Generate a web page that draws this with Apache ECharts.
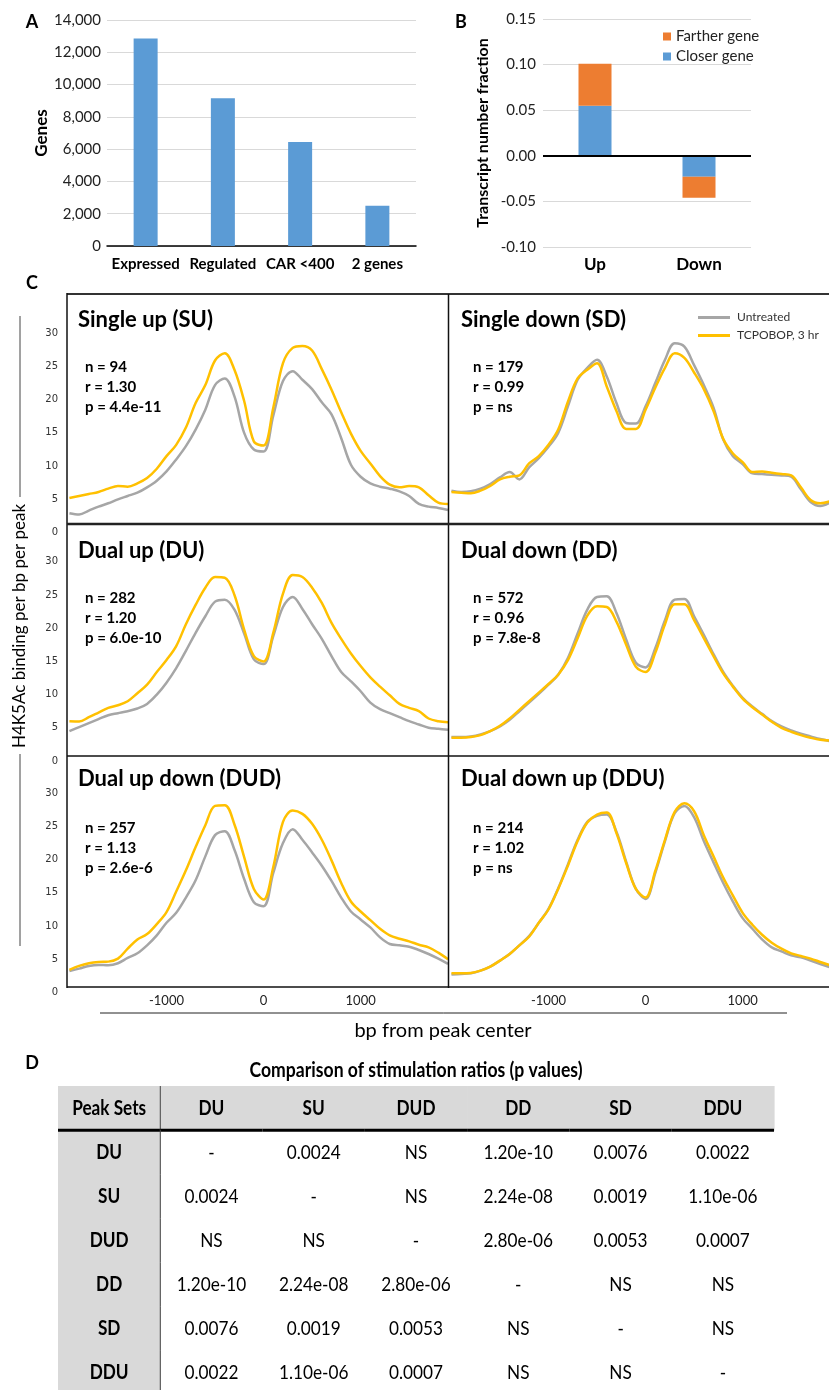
<!DOCTYPE html>
<html>
<head>
<meta charset="utf-8">
<title>H4K5Ac profiles and gene sets</title>
<script src="https://cdn.jsdelivr.net/npm/echarts@6/dist/echarts.min.js"></script>
<style>
  html, body { margin: 0; padding: 0; background: #fff; }
  #fig { width: 829px; height: 1390px; }
</style>
</head>
<body>
<div id="fig"></div>
<script>
// ---------- A: gene counts ----------
const geneCategories = ['Expressed', 'Regulated', 'CAR <400', '2 genes'];
const geneCounts = [12850, 9150, 6450, 2500];

// ---------- B: transcript number fraction ----------
const directionCategories = ['Up', 'Down'];
const closerGene = [0.055, -0.023];
const fartherGene = [0.046, -0.023];

// ---------- C: H4K5Ac profiles (bp from peak center) ----------
const bp = [-2000, -1900, -1800, -1700, -1600, -1500, -1400, -1300, -1200, -1100,
            -1000, -900, -800, -700, -600, -500, -400, -300, -200, -100,
            0, 100, 200, 300, 400, 500, 600, 700, 800, 900,
            1000, 1100, 1200, 1300, 1400, 1500, 1600, 1700, 1800, 1900];
const xTickValues = [-1000, 0, 1000];

const suUntreated = [2.9,2.7,3.3,3.9,4.4,5.0,5.5,6.0,6.8,7.8, 9.2,11.0,13.0,15.5,18.5,22.2,23.2,20.5,15.0,12.5, 12.2,17.6,22.8,24.3,23.0,21.6,19.6,17.8,14.2,10.2, 8.4,7.4,6.9,6.6,6.2,5.5,4.3,3.9,3.7,3.4];
const suTcpobop   = [5.2,5.5,5.8,6.1,6.6,7.0,6.9,7.4,8.2,9.6, 11.5,13.2,15.8,19.5,22.2,25.9,27.0,24.5,19.8,13.7, 13.1,18.8,25.5,27.8,28.1,27.4,24.6,21.5,18.1,14.9, 12.3,10.4,8.5,7.2,6.8,7.0,6.8,5.6,4.5,4.3];

const sdUntreated = [6.3,6.1,6.2,6.6,7.3,8.3,9.1,8.0,9.8,11.2, 12.9,15.0,19.0,23.0,24.8,26.0,23.5,19.5,16.5,16.4, 19.0,22.5,26.0,28.5,28.0,25.2,22.2,18.8,14.0,11.5, 10.3,8.9,8.8,8.7,8.6,8.4,6.5,4.6,4.0,4.5];
const sdTcpobop   = [6.1,6.0,5.9,6.3,7.0,8.0,8.4,8.6,10.4,11.5, 13.2,15.5,19.7,23.2,24.5,25.5,22.0,18.3,15.6,15.6, 18.5,21.8,24.8,27.0,26.3,24.1,21.6,18.3,14.1,11.9, 10.6,9.1,9.2,9.0,8.8,8.6,6.8,4.9,4.4,4.7];

const duUntreated = [4.5,5.1,5.7,6.3,6.9,7.2,7.5,7.9,8.6,10.0, 11.8,14.0,16.6,19.3,21.8,24.0,24.3,22.8,19.2,15.3, 14.6,18.8,23.2,24.7,22.9,20.6,18.4,15.8,13.4,12.0, 10.5,8.8,7.8,7.2,6.6,6.0,5.5,5.0,4.85,4.7];
const duTcpobop   = [6.0,5.95,6.6,7.3,8.0,8.4,9.0,10.2,11.5,13.4, 15.2,17.3,20.6,23.5,26.1,27.7,27.6,25.0,19.8,15.8, 15.0,19.3,25.2,28.0,27.7,26.1,23.8,20.8,18.4,16.2, 14.3,12.6,11.2,9.9,8.6,8.0,7.5,6.4,6.0,5.85];

const ddUntreated = [3.6,3.6,3.7,4.0,4.5,5.2,6.2,7.5,8.8,10.1, 11.5,13.0,15.5,19.2,22.8,24.7,24.8,22.3,18.3,14.8, 14.1,17.0,21.2,24.3,24.4,21.8,19.0,16.1,13.4,11.3, 9.5,8.2,7.1,6.0,5.2,4.6,4.1,3.7,3.3,3.0];
const ddTcpobop   = [3.5,3.5,3.6,3.9,4.5,5.3,6.4,7.7,9.0,10.3, 11.6,13.0,15.2,18.5,21.9,23.3,23.2,21.0,17.5,14.2, 13.4,16.3,20.6,23.6,23.6,21.2,18.5,15.8,13.2,11.2, 9.4,8.1,7.0,5.9,5.0,4.4,3.9,3.5,3.2,3.1];

const dudUntreated = [3.25,3.6,4.0,4.15,4.1,4.4,5.2,5.9,7.1,8.6, 10.5,12.0,14.3,16.9,20.5,23.7,24.3,21.5,17.1,13.6, 13.0,18.0,22.5,24.6,23.0,21.1,19.1,16.8,14.3,12.2, 11.0,9.8,8.3,7.3,7.1,6.9,6.4,5.8,5.1,4.3];
const dudTcpobop   = [3.4,4.0,4.4,4.6,4.65,5.1,6.6,8.0,8.8,10.3, 12.1,15.2,18.4,21.9,25.2,28.1,28.2,25.3,20.4,15.6, 14.0,18.9,25.7,27.4,26.9,25.4,23.0,19.9,16.5,13.7, 12.2,10.9,9.6,8.6,8.1,7.7,7.2,6.8,6.0,5.0];

const dduUntreated = [2.7,2.8,2.9,3.3,3.9,4.8,5.8,7.1,8.5,10.5, 12.6,15.7,19.3,23.0,25.7,26.6,26.8,24.2,19.7,15.6, 14.1,18.0,22.8,27.0,28.1,26.4,22.8,19.6,16.5,13.7, 11.2,9.6,8.0,6.8,6.2,5.6,5.3,4.8,4.3,3.8];
const dduTcpobop   = [2.9,2.9,2.95,3.3,3.9,4.8,5.8,7.1,8.4,10.5, 12.5,15.6,19.1,22.8,25.6,26.8,27.1,24.0,19.5,15.6, 14.3,18.3,23.0,27.2,28.5,27.3,23.7,20.5,17.3,14.6, 12.0,10.2,8.7,7.5,6.6,5.9,5.5,5.1,4.6,4.1];

const panelTitles = ['Single up (SU)', 'Single down (SD)', 'Dual up (DU)', 'Dual down (DD)', 'Dual up down (DUD)', 'Dual down up (DDU)'];
const panelN = ['94', '179', '282', '572', '257', '214'];
const panelR = ['1.30', '0.99', '1.20', '0.96', '1.13', '1.02'];
const panelP = ['4.4e-11', 'ns', '6.0e-10', '7.8e-8', '2.6e-6', 'ns'];
const untreatedSets = [suUntreated, sdUntreated, duUntreated, ddUntreated, dudUntreated, dduUntreated];
const treatedSets = [suTcpobop, sdTcpobop, duTcpobop, ddTcpobop, dudTcpobop, dduTcpobop];

// ---------- D: comparison of stimulation ratios ----------
const tableHeader = ['Peak Sets', 'DU', 'SU', 'DUD', 'DD', 'SD', 'DDU'];
const rowSets = ['DU', 'SU', 'DUD', 'DD', 'SD', 'DDU'];
const pValues = [
  ['-', '0.0024', 'NS', '1.20e-10', '0.0076', '0.0022'],
  ['0.0024', '-', 'NS', '2.24e-08', '0.0019', '1.10e-06'],
  ['NS', 'NS', '-', '2.80e-06', '0.0053', '0.0007'],
  ['1.20e-10', '2.24e-08', '2.80e-06', '-', 'NS', 'NS'],
  ['0.0076', '0.0019', '0.0053', 'NS', '-', 'NS'],
  ['0.0022', '1.10e-06', '0.0007', 'NS', 'NS', '-']
];

// ---------- styles ----------
const FONT = 'Lato, "Open Sans", sans-serif';
const BLUE = '#5B9BD5', ORANGE = '#ED7D31', GOLD = '#FFC000', GREY = '#A6A6A6';

const chart = echarts.init(document.getElementById('fig'), null, { renderer: 'canvas', width: 829, height: 1390 });

const grids = [], xAxes = [], yAxes = [], series = [], graphics = [];

function txt(x, y, text, font, opts) {
  const o = opts || {};
  return {
    type: 'text', x: x, y: y, rotation: o.rotation || 0, scaleX: o.scaleX || 1, z: 10,
    style: {
      text: text, font: font, fill: o.fill || '#000',
      align: o.align || 'left', textAlign: o.align || 'left',
      verticalAlign: 'middle', textVerticalAlign: 'middle'
    }
  };
}
function line(x1, y1, x2, y2, color, width) {
  return { type: 'line', z: 10, shape: { x1: x1, y1: y1, x2: x2, y2: y2 }, style: { stroke: color, lineWidth: width } };
}

// ----- panel A -----
grids.push({ left: 107, top: 20, width: 309, height: 226, outerBoundsMode: 'none' });
xAxes.push({
  type: 'category', gridIndex: 0, data: geneCategories,
  axisLine: { lineStyle: { color: '#000', width: 1.5 } }, axisTick: { show: false },
  axisLabel: { interval: 0, hideOverlap: false, color: '#000', fontFamily: FONT, fontWeight: 'bold', fontSize: 15, margin: 11 }
});
yAxes.push({
  type: 'value', gridIndex: 0, min: 0, max: 14000, interval: 2000,
  name: 'Genes', nameLocation: 'middle', nameGap: 46, nameRotate: 90,
  nameTextStyle: { color: '#000', fontFamily: FONT, fontWeight: 'bold', fontSize: 17 },
  axisLine: { show: false }, axisTick: { show: false },
  axisLabel: { color: '#222', fontFamily: FONT, fontSize: 15, margin: 6, formatter: v => v.toLocaleString('en-US') },
  splitLine: { lineStyle: { color: '#d9d9d9', width: 1 } }
});
series.push({ type: 'bar', name: 'Genes', xAxisIndex: 0, yAxisIndex: 0, data: geneCounts, barWidth: 24, itemStyle: { color: BLUE } });

// ----- panel B -----
grids.push({ left: 543, top: 19, width: 208, height: 228, outerBoundsMode: 'none' });
xAxes.push({
  type: 'category', gridIndex: 1, data: directionCategories,
  axisLine: { show: false }, axisTick: { show: false },
  axisLabel: { interval: 0, color: '#000', fontFamily: FONT, fontWeight: 'bold', fontSize: 17, margin: 9 }
});
yAxes.push({
  type: 'value', gridIndex: 1, min: -0.1, max: 0.15, interval: 0.05,
  name: 'Transcript number fraction', nameLocation: 'middle', nameGap: 52, nameRotate: 90,
  nameTextStyle: { color: '#000', fontFamily: FONT, fontWeight: 'bold', fontSize: 16 },
  axisLine: { show: false }, axisTick: { show: false },
  axisLabel: { color: '#222', fontFamily: FONT, fontSize: 15, margin: 7, formatter: v => (Math.abs(v) < 1e-9 ? 0 : v).toFixed(2) },
  splitLine: { lineStyle: { color: '#d9d9d9', width: 1 } }
});
series.push({
  type: 'bar', name: 'Closer gene', stack: 'fraction', xAxisIndex: 1, yAxisIndex: 1,
  data: closerGene, barWidth: 33, itemStyle: { color: BLUE },
  markLine: { silent: true, symbol: 'none', label: { show: false }, lineStyle: { color: '#000', width: 2, type: 'solid' }, data: [{ yAxis: 0 }] }
});
series.push({ type: 'bar', name: 'Farther gene', stack: 'fraction', xAxisIndex: 1, yAxisIndex: 1, data: fartherGene, barWidth: 33, itemStyle: { color: ORANGE } });

// ----- panel C -----
const colLeft = [67, 449], panelW = 381;
const rowTop = [294, 524, 756], rowZero = [532.5, 761, 992.5];
const pxPerUnit = 6.64;
const titleX = [78, 461], statX = [85, 473];
const titleY = [320, 551, 779], statY = [367, 598, 828];

for (let p = 0; p < 6; p++) {
  const col = p % 2, row = Math.floor(p / 2);
  const gi = grids.length;
  const h = rowZero[row] - rowTop[row];
  grids.push({ left: colLeft[col], top: rowTop[row], width: panelW, height: h, outerBoundsMode: 'none' });
  xAxes.push({
    type: 'value', gridIndex: gi, min: -2025, max: 1900,
    axisLine: { show: false }, axisTick: { show: false }, splitLine: { show: false },
    axisLabel: { show: row === 2, customValues: xTickValues, formatter: v => String(v), color: '#222', fontFamily: FONT, fontSize: 13, margin: 2 }
  });
  yAxes.push({
    type: 'value', gridIndex: gi, min: 0, max: h / pxPerUnit, interval: 5,
    axisLine: { show: false }, axisTick: { show: false }, splitLine: { show: false },
    axisLabel: {
      show: col === 0, color: '#333', fontFamily: '"DejaVu Sans", sans-serif', fontSize: 10, margin: 9,
      formatter: v => (Math.abs(v % 5) < 1e-6 && v <= 30 ? String(Math.round(v)) : '')
    }
  });
  series.push({
    type: 'line', name: 'Untreated', xAxisIndex: gi, yAxisIndex: gi, showSymbol: false, smooth: 0.35,
    data: bp.map((x, i) => [x, untreatedSets[p][i]]), lineStyle: { color: GREY, width: 2.5 }, itemStyle: { color: GREY }, z: 2
  });
  series.push({
    type: 'line', name: 'TCPOBOP, 3 hr', xAxisIndex: gi, yAxisIndex: gi, showSymbol: false, smooth: 0.35,
    data: bp.map((x, i) => [x, treatedSets[p][i]]), lineStyle: { color: GOLD, width: 2.5 }, itemStyle: { color: GOLD }, z: 3
  });

  graphics.push(txt(titleX[col], titleY[row], panelTitles[p], 'bold 22px ' + FONT));
  graphics.push(txt(statX[col], statY[row], 'n = ' + panelN[p], 'bold 15px ' + FONT));
  graphics.push(txt(statX[col], statY[row] + 20, 'r = ' + panelR[p], 'bold 15px ' + FONT));
  graphics.push(txt(statX[col], statY[row] + 40, 'p = ' + panelP[p], 'bold 15px ' + FONT));
}

// panel frames
graphics.push(line(67, 294, 829, 294, '#333', 2));
graphics.push(line(67, 293, 67, 988, '#111', 1.5));
graphics.push(line(448.5, 294, 448.5, 988, '#111', 1.5));
graphics.push(line(67, 524, 829, 524, '#222', 2.5));
graphics.push(line(67, 756, 829, 756, '#111', 1.5));
graphics.push(line(67, 987, 829, 987, '#111', 1.5));

// shared axis titles of panel C
graphics.push(line(20, 316, 20, 497, '#444', 1));
graphics.push(line(20, 754, 20, 946, '#444', 1));
graphics.push(txt(20, 626, 'H4K5Ac binding per bp per peak', '17px ' + FONT, { rotation: Math.PI / 2, align: 'center' }));
graphics.push(line(100, 1013, 787, 1013, '#222', 1));
graphics.push(txt(443, 1031, 'bp from peak center', '20px ' + FONT, { align: 'center' }));

// panel letters
graphics.push(txt(32, 22, 'A', 'bold 18px ' + FONT, { align: 'center' }));
graphics.push(txt(461, 22, 'B', 'bold 18px ' + FONT, { align: 'center' }));
graphics.push(txt(32, 283, 'C', 'bold 18px ' + FONT, { align: 'center' }));
graphics.push(txt(32, 1063, 'D', 'bold 18px ' + FONT, { align: 'center' }));

// ----- panel D: table drawn as a custom series on category axes -----
const tableCells = [];
for (let r = 0; r < 7; r++) {
  for (let c = 0; c < 7; c++) {
    const text = r === 0 ? tableHeader[c] : (c === 0 ? rowSets[r - 1] : pValues[r - 1][c - 1]);
    tableCells.push({ value: [c, r], text: text, head: r === 0 || c === 0 });
  }
}
const tgi = grids.length;
grids.push({ left: 58, top: 1086, width: 716, height: 309, outerBoundsMode: 'none' });
xAxes.push({ type: 'category', gridIndex: tgi, data: tableHeader, show: false });
yAxes.push({ type: 'category', gridIndex: tgi, data: ['head'].concat(rowSets), inverse: true, show: false });
series.push({
  type: 'custom', name: 'table', xAxisIndex: tgi, yAxisIndex: tgi, silent: true,
  data: tableCells.map(d => d.value),
  renderItem: function (params, api) {
    const cell = tableCells[params.dataIndex];
    const c = api.value(0), r = api.value(1);
    const pt = api.coord([c, r]);
    const sz = api.size([1, 1]);
    const w = sz[0], h = sz[1];
    const children = [];
    if (cell.head) {
      children.push({ type: 'rect', z2: 0, shape: { x: pt[0] - w / 2, y: pt[1] - h / 2, width: w + 0.6, height: h + 0.6 }, style: { fill: '#d9d9d9' } });
    }
    children.push({
      type: 'text', z2: 5, x: pt[0], y: pt[1], scaleX: 0.86,
      style: {
        text: cell.text, fill: '#000', font: (cell.head ? 'bold ' : '') + '20px ' + FONT,
        align: 'center', textAlign: 'center', verticalAlign: 'middle', textVerticalAlign: 'middle'
      }
    });
    if (r === 0) {
      children.push({ type: 'line', z2: 10, shape: { x1: pt[0] - w / 2, y1: pt[1] + h / 2, x2: pt[0] + w / 2, y2: pt[1] + h / 2 }, style: { stroke: '#000', lineWidth: 3 } });
    }
    if (c === 0) {
      children.push({ type: 'line', z2: 10, shape: { x1: pt[0] + w / 2, y1: pt[1] - h / 2, x2: pt[0] + w / 2, y2: pt[1] + h / 2 }, style: { stroke: '#444', lineWidth: 1 } });
    }
    return { type: 'group', children: children };
  }
});
graphics.push(txt(416, 1071, 'Comparison of stimulation ratios (p values)', 'bold 20px ' + FONT, { align: 'center', scaleX: 0.88 }));

chart.setOption({
  animation: false,
  backgroundColor: '#fff',
  grid: grids,
  xAxis: xAxes,
  yAxis: yAxes,
  legend: [
    {
      data: ['Farther gene', 'Closer gene'], orient: 'vertical', left: 658, top: 23, icon: 'rect',
      itemWidth: 8, itemHeight: 8, itemGap: 3, selectedMode: false,
      textStyle: { color: '#222', fontFamily: FONT, fontSize: 15, lineHeight: 17 }
    },
    {
      data: ['Untreated', 'TCPOBOP, 3 hr'], orient: 'vertical', left: 693, top: 305, icon: 'rect',
      itemWidth: 32, itemHeight: 3, itemGap: 3, selectedMode: false,
      textStyle: { color: '#333', fontFamily: FONT, fontSize: 12, lineHeight: 15, padding: [0, 0, 0, 2] }
    }
  ],
  series: series,
  graphic: { elements: graphics }
});
</script>
</body>
</html>
